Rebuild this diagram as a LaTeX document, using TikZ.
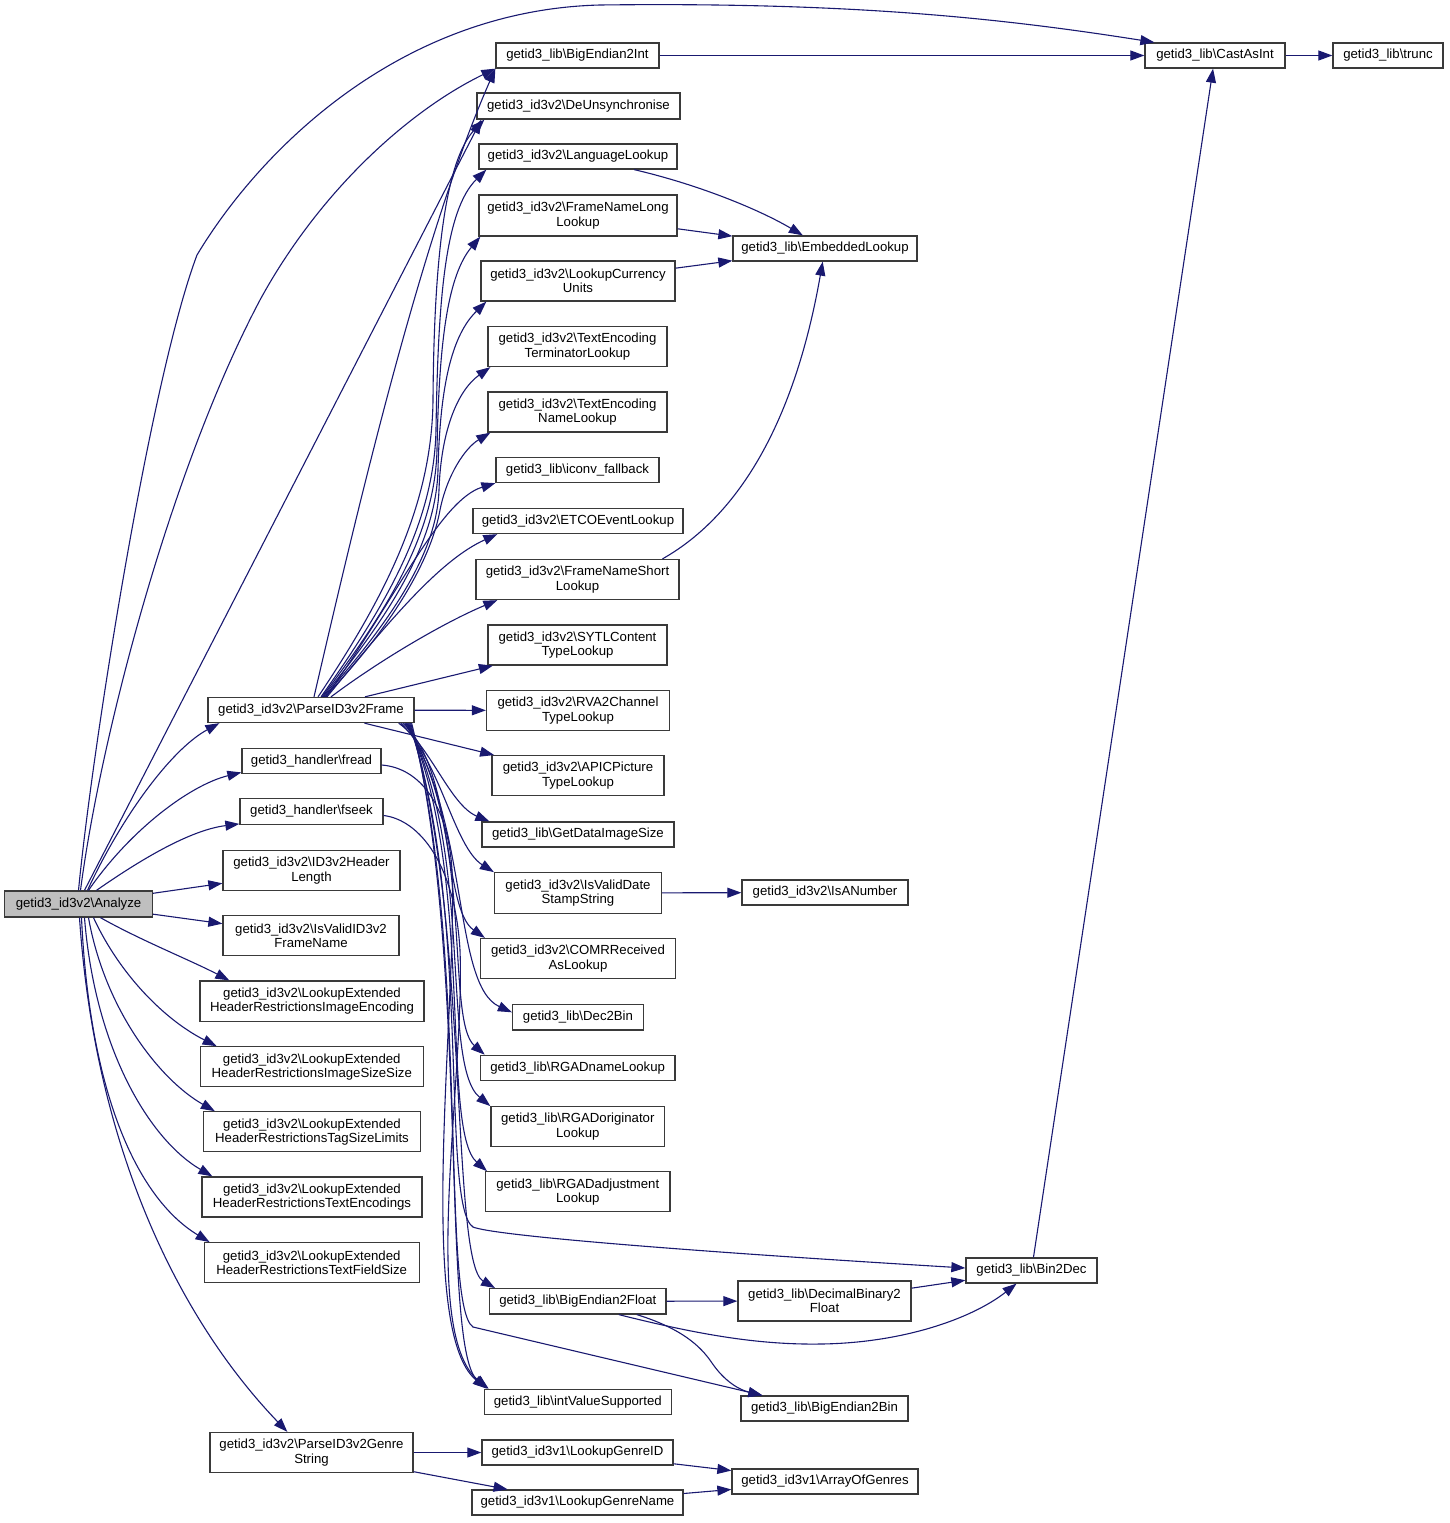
\documentclass[tikz,border=0pt]{standalone}
\usepackage{fontspec}
\setmainfont{Liberation Sans}
\usetikzlibrary{arrows.meta}
\definecolor{edgec}{HTML}{191970}
\definecolor{boxc}{HTML}{3A3A3A}
\definecolor{hilite}{HTML}{BFBFBF}
\newcommand{\nfont}{\fontsize{13.2}{14.3}\selectfont}
\newcommand{\plib}{getid3\_lib\textbackslash}
\newcommand{\pvt}{getid3\_id3v2\textbackslash}
\newcommand{\pvo}{getid3\_id3v1\textbackslash}
\newcommand{\phd}{getid3\_handler\textbackslash}
\tikzset{
  box/.style={draw=boxc, line width=1.3pt, fill=white, inner sep=0pt, align=center, font=\nfont, text=black},
  e/.style={draw=edgec, line width=1.1pt, -{Triangle[length=14pt,width=10pt]}},
}
\newcommand{\bx}[6]{\node[box,minimum width=#4pt,minimum height=#5pt] (#1) at (#2,#3) {#6};}
\begin{document}
\begin{tikzpicture}[x=1pt,y=-1pt]
\useasboundingbox (0,0) rectangle (1449,1523);
% nodes
\node[box,fill=hilite,minimum width=147.6pt,minimum height=26pt] (an) at (78.5,904) {\pvt Analyze};
\bx{be2i}{577.5}{55.5}{163}{25}{\plib BigEndian2Int}
\bx{cast}{1215}{55.5}{140}{25}{\plib CastAsInt}
\bx{trunc}{1388}{55.5}{110}{25}{\plib trunc}
\bx{deun}{578.5}{106}{203}{26}{\pvt DeUnsynchronise}
\bx{lang}{578}{156.5}{198}{25}{\pvt LanguageLookup}
\bx{fnl}{578}{215.5}{198}{41}{\pvt FrameNameLong\\Lookup}
\bx{emb}{825}{248.5}{184}{25}{\plib EmbeddedLookup}
\bx{cur}{578}{281}{194}{40}{\pvt LookupCurrency\\Units}
\bx{tet}{577.5}{346.5}{179}{40}{\pvt TextEncoding\\TerminatorLookup}
\bx{ten}{577.5}{412}{179}{40}{\pvt TextEncoding\\NameLookup}
\bx{icv}{577.5}{470}{163}{25}{\plib iconv\_fallback}
\bx{etco}{578}{521}{210}{25}{\pvt ETCOEventLookup}
\bx{fns}{577.5}{579.5}{203}{40}{\pvt FrameNameShort\\Lookup}
\bx{sytl}{577.5}{645}{179}{40}{\pvt SYTLContent\\TypeLookup}
\bx{pf}{311}{710}{206}{25}{\pvt ParseID3v2Frame}
\bx{rva}{578}{710.5}{183}{40}{\pvt RVA2Channel\\TypeLookup}
\bx{apic}{578}{775.7}{172}{40}{\pvt APICPicture\\TypeLookup}
\bx{fread}{311.5}{761}{139}{25.5}{\phd fread}
\bx{fseek}{311.5}{811.5}{143}{25.5}{\phd fseek}
\bx{gdis}{578}{834.5}{192}{25}{\plib GetDataImageSize}
\bx{ivd}{578}{893}{167}{40.5}{\pvt IsValidDate\\StampString}
\bx{isnum}{825}{892.5}{166}{25}{\pvt IsANumber}
\bx{hlen}{311.5}{870.5}{177}{40}{\pvt ID3v2Header\\Length}
\bx{ivf}{311}{935.7}{176}{40}{\pvt IsValidID3v2\\FrameName}
\bx{comr}{578}{958.5}{195}{40}{\pvt COMRReceived\\AsLookup}
\bx{rie}{312}{1001.3}{224}{40.5}{\pvt LookupExtended\\HeaderRestrictionsImageEncoding}
\bx{d2b}{578}{1017.3}{131}{25.5}{\plib Dec2Bin}
\bx{riss}{311.8}{1066.8}{223}{40}{\pvt LookupExtended\\HeaderRestrictionsImageSizeSize}
\bx{rgn}{577.7}{1067.8}{194.7}{25}{\plib RGADnameLookup}
\bx{rgo}{577.8}{1126.7}{173.7}{40}{\plib RGADoriginator\\Lookup}
\bx{rtsl}{312}{1131.8}{217}{40}{\pvt LookupExtended\\HeaderRestrictionsTagSizeLimits}
\bx{rga}{577.8}{1191.8}{184.3}{40}{\plib RGADadjustment\\Lookup}
\bx{rte}{312}{1197}{220}{40}{\pvt LookupExtended\\HeaderRestrictionsTextEncodings}
\bx{rtf}{311.7}{1262.7}{215}{40}{\pvt LookupExtended\\HeaderRestrictionsTextFieldSize}
\bx{b2d}{1031.5}{1270.5}{131}{25}{\plib Bin2Dec}
\bx{be2f}{577.8}{1301.3}{176.3}{25.3}{\plib BigEndian2Float}
\bx{db2f}{824.5}{1301}{173}{40}{\plib DecimalBinary2\\Float}
\bx{ivs}{577.8}{1402}{187}{25.5}{\plib intValueSupported}
\bx{be2b}{824.5}{1408.5}{167}{25}{\plib BigEndian2Bin}
\bx{pgs}{311.5}{1452.5}{203}{40}{\pvt ParseID3v2Genre\\String}
\bx{lgid}{577.5}{1452.5}{191}{25}{\pvo LookupGenreID}
\bx{aog}{825}{1481.5}{186}{25}{\pvo ArrayOfGenres}
\bx{lgn}{577.5}{1502.5}{211}{25}{\pvo LookupGenreName}
% edges from Analyze
\draw[e] (an.north) .. controls (92,750) and (150,380) .. (197,255) .. controls (260,150) and (400,10) .. (600,5) .. controls (850,2) and (1000,18) .. ([xshift=10pt]cast.north west);
\draw[e] ([xshift=2pt]an.north) .. controls (100,740) and (170,470) .. (260,300) .. controls (320,190) and (410,110) .. (be2i.south west);
\draw[e] ([xshift=6pt]an.north) -- ([xshift=5pt]deun.south west);
\draw[e] ([xshift=9pt]an.north) .. controls (120,820) and (170,750) .. ([xshift=12pt]pf.south west);
\draw[e] ([xshift=10pt]an.north) .. controls (130,830) and (190,785) .. ([yshift=2pt]fread.south west);
\draw[e] ([xshift=18pt]an.north) .. controls (140,860) and (190,830) .. ([yshift=1pt]fseek.south west);
\draw[e] (an) -- (hlen);
\draw[e] (an) -- (ivf);
\draw[e] ([xshift=22pt]an.south) .. controls (140,940) and (190,960) .. ([xshift=30pt]rie.north west);
\draw[e] ([xshift=15pt]an.south) .. controls (120,975) and (165,1020) .. ([xshift=17pt]riss.north west);
\draw[e] ([xshift=10pt]an.south) .. controls (105,1010) and (160,1080) .. ([xshift=12pt]rtsl.north west);
\draw[e] ([xshift=6pt]an.south) .. controls (95,1050) and (150,1140) .. ([xshift=11pt]rte.north west);
\draw[e] ([xshift=3pt]an.south) .. controls (90,1100) and (140,1200) .. ([xshift=6pt]rtf.north west);
\draw[e] ([xshift=1pt]an.south) .. controls (95,1150) and (180,1320) .. ([xshift=78pt]pgs.north west);
% edges from ParseID3v2Frame, upwards
\draw[e] ([xshift=3pt]pf.north) .. controls (355,520) and (420,240) .. (be2i.south west);
\draw[e] ([xshift=7pt]pf.north) .. controls (390,590) and (432,500) .. (433,400) .. controls (434,260) and (445,160) .. ([xshift=8pt]deun.south west);
\draw[e] ([xshift=10pt]pf.north) .. controls (390,600) and (434,520) .. (436,430) .. controls (438,300) and (445,210) .. ([xshift=8pt]lang.south west);
\draw[e] ([xshift=11pt]pf.north) .. controls (392,605) and (435,530) .. (437,450) .. controls (439,340) and (448,275) .. ([xshift=2pt]fnl.south west);
\draw[e] ([xshift=12pt]pf.north) .. controls (394,610) and (436,540) .. (438,470) .. controls (440,385) and (452,335) .. ([xshift=6pt]cur.south west);
\draw[e] ([xshift=13pt]pf.north) .. controls (396,615) and (437,550) .. (439,490) .. controls (441,430) and (458,390) .. ([xshift=3pt]tet.south west);
\draw[e] ([xshift=14pt]pf.north) .. controls (398,620) and (432,555) .. (440,510) .. controls (447,475) and (465,448) .. ([xshift=3pt]ten.south west);
\draw[e] ([xshift=15pt]pf.north) .. controls (395,600) and (440,500) .. (icv.south west);
\draw[e] ([xshift=16pt]pf.north) .. controls (390,620) and (440,560) .. ([xshift=25pt]etco.south west);
\draw[e] ([xshift=20pt]pf.north) .. controls (380,660) and (445,622) .. ([xshift=22pt]fns.south west);
\draw[e] (pf) -- (sytl);
\draw[e] (pf) -- (rva);
\draw[e] (pf) -- (apic);
% edges from ParseID3v2Frame, downwards
\draw[e] ([xshift=-16pt]pf.south east) .. controls (430,745) and (450,805) .. ([xshift=8pt]gdis.north west);
\draw[e] ([xshift=-14pt]pf.south east) .. controls (440,760) and (454,847) .. (ivd.north west);
\draw[e] ([xshift=-12pt]pf.south east) .. controls (455,770) and (442,908) .. ([xshift=5pt]comr.north west);
\draw[e] ([xshift=-10pt]pf.south east) .. controls (470,820) and (452,985) .. ([yshift=5pt]d2b.west);
\draw[e] ([xshift=-9pt]pf.south east) .. controls (475,830) and (445,1020) .. ([xshift=5pt]rgn.north west);
\draw[e] ([xshift=-8pt]pf.south east) .. controls (475,850) and (440,1065) .. (rgo.north west);
\draw[e] ([xshift=-7pt]pf.south east) .. controls (475,870) and (440,1130) .. ([xshift=2pt]rga.north west);
\draw[e] ([xshift=-6pt]pf.south east) .. controls (472,900) and (440,1205) .. (473,1227) .. controls (495,1236) and (700,1252) .. ([yshift=2.5pt]b2d.west);
\draw[e] ([xshift=-5pt]pf.south east) .. controls (470,910) and (450,1262) .. ([xshift=6pt]be2f.north west);
\draw[e] ([xshift=-4pt]pf.south east) .. controls (470,940) and (440,1305) .. (473,1327) -- ([xshift=22pt]be2b.north west);
\draw[e] ([xshift=-3pt]pf.south east) .. controls (470,960) and (440,1352) .. ([xshift=5pt]ivs.north west);
% fread, fseek
\draw[e] ([yshift=-4pt]fread.east) .. controls (420,768) and (448,805) .. (452,870) .. controls (458,1000) and (415,1330) .. ([xshift=3pt]ivs.north west);
\draw[e] ([yshift=-4pt]fseek.east) .. controls (420,820) and (455,865) .. (460,950) .. controls (465,1080) and (420,1330) .. ([xshift=4pt]ivs.north west);
% other edges
\draw[e] (be2i) -- (cast);
\draw[e] (cast) -- (trunc);
\draw[e] (lang) .. controls (700,185) and (760,210) .. (emb);
\draw[e] (fnl) -- (emb);
\draw[e] (cur) -- (emb);
\draw[e] ([xshift=85pt]fns.north) .. controls (740,515) and (795,420) .. (emb);
\draw[e] (ivd) -- (isnum);
\draw[e] (b2d) -- (cast);
\draw[e] (be2f) -- (db2f);
\draw[e] (db2f) -- (b2d);
\draw[e] ([xshift=41pt]be2f.south) .. controls (700,1335) and (760,1345) .. (821,1344) .. controls (900,1343) and (970,1320) .. ([xshift=-15pt]b2d.south);
\draw[e] ([xshift=59pt]be2f.south) .. controls (680,1328) and (700,1345) .. (712,1363) .. controls (725,1382) and (740,1390) .. ([xshift=22pt]be2b.north west);
\draw[e] (pgs) -- (lgid);
\draw[e] (pgs) -- (lgn);
\draw[e] (lgid) -- (aog);
\draw[e] (lgn) -- (aog);
\end{tikzpicture}
\end{document}
